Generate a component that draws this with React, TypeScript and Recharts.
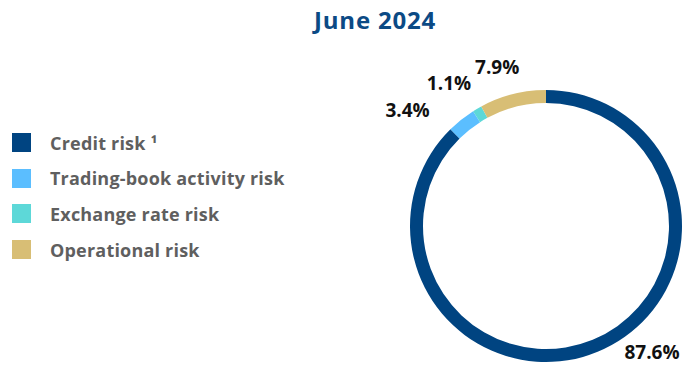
import { Cell, Pie, PieChart } from "recharts";

const categories = ["Credit risk ¹", "Trading-book activity risk", "Exchange rate risk", "Operational risk"];
const shares = [87.6, 3.4, 1.1, 7.9];
const colors = ["#004481", "#5BBEFF", "#5DD8D8", "#D8BE75"];
const title = "June 2024";

// nudges so the value labels sit where the original places them
const labelNudge = [
  { dx: 46, dy: -20 },
  { dx: -40, dy: 8 },
  { dx: -17, dy: -7 },
  { dx: -10, dy: -6 },
];

const data = categories.map((name, i) => ({ name, value: shares[i] }));
const RAD = Math.PI / 180;
const font = "'Open Sans', Roboto, sans-serif";

function renderLabel(props: any) {
  const { cx, cy, midAngle, outerRadius, index, value } = props;
  const r = outerRadius + 22;
  const x = cx + r * Math.cos(-midAngle * RAD) + labelNudge[index].dx;
  const y = cy + r * Math.sin(-midAngle * RAD) + labelNudge[index].dy;
  return (
    <text
      x={x}
      y={y}
      textAnchor="middle"
      dominantBaseline="central"
      fill="#111"
      fontSize={19}
      fontWeight={700}
      fontFamily={font}
    >
      {value.toFixed(1)}%
    </text>
  );
}

function LegendList() {
  return (
    <ul style={{ position: "absolute", left: 12, top: 125, listStyle: "none", margin: 0, padding: 0 }}>
      {categories.map((name, i) => (
        <li key={name} style={{ display: "flex", alignItems: "center", height: 35.6, fontFamily: font }}>
          <span style={{ width: 19, height: 19, background: colors[i], display: "inline-block" }} />
          <span style={{ marginLeft: 19, color: "#5f5f5f", fontSize: 18, fontWeight: 700, letterSpacing: 0.2 }}>
            {name}
          </span>
        </li>
      ))}
    </ul>
  );
}

export default function App() {
  return (
    <div style={{ position: "absolute", left: 0, top: 0, width: 683, height: 365, background: "#fff" }}>
      <PieChart width={683} height={365} margin={{ top: 0, right: 0, bottom: 0, left: 0 }}>
        <Pie
          data={data}
          dataKey="value"
          nameKey="name"
          cx={546}
          cy={226}
          innerRadius={123}
          outerRadius={136}
          startAngle={90}
          endAngle={-270}
          stroke="none"
          label={renderLabel}
          labelLine={false}
          isAnimationActive={false}
        >
          {data.map((d, i) => (
            <Cell key={d.name} fill={colors[i]} />
          ))}
        </Pie>
      </PieChart>
      <div
        style={{
          position: "absolute",
          left: 0,
          top: 3,
          width: 750,
          textAlign: "center",
          fontFamily: font,
          fontWeight: 700,
          fontSize: 24,
          letterSpacing: 0.8,
          color: "#0B4A85",
        }}
      >
        {title}
      </div>
      <LegendList />
    </div>
  );
}
